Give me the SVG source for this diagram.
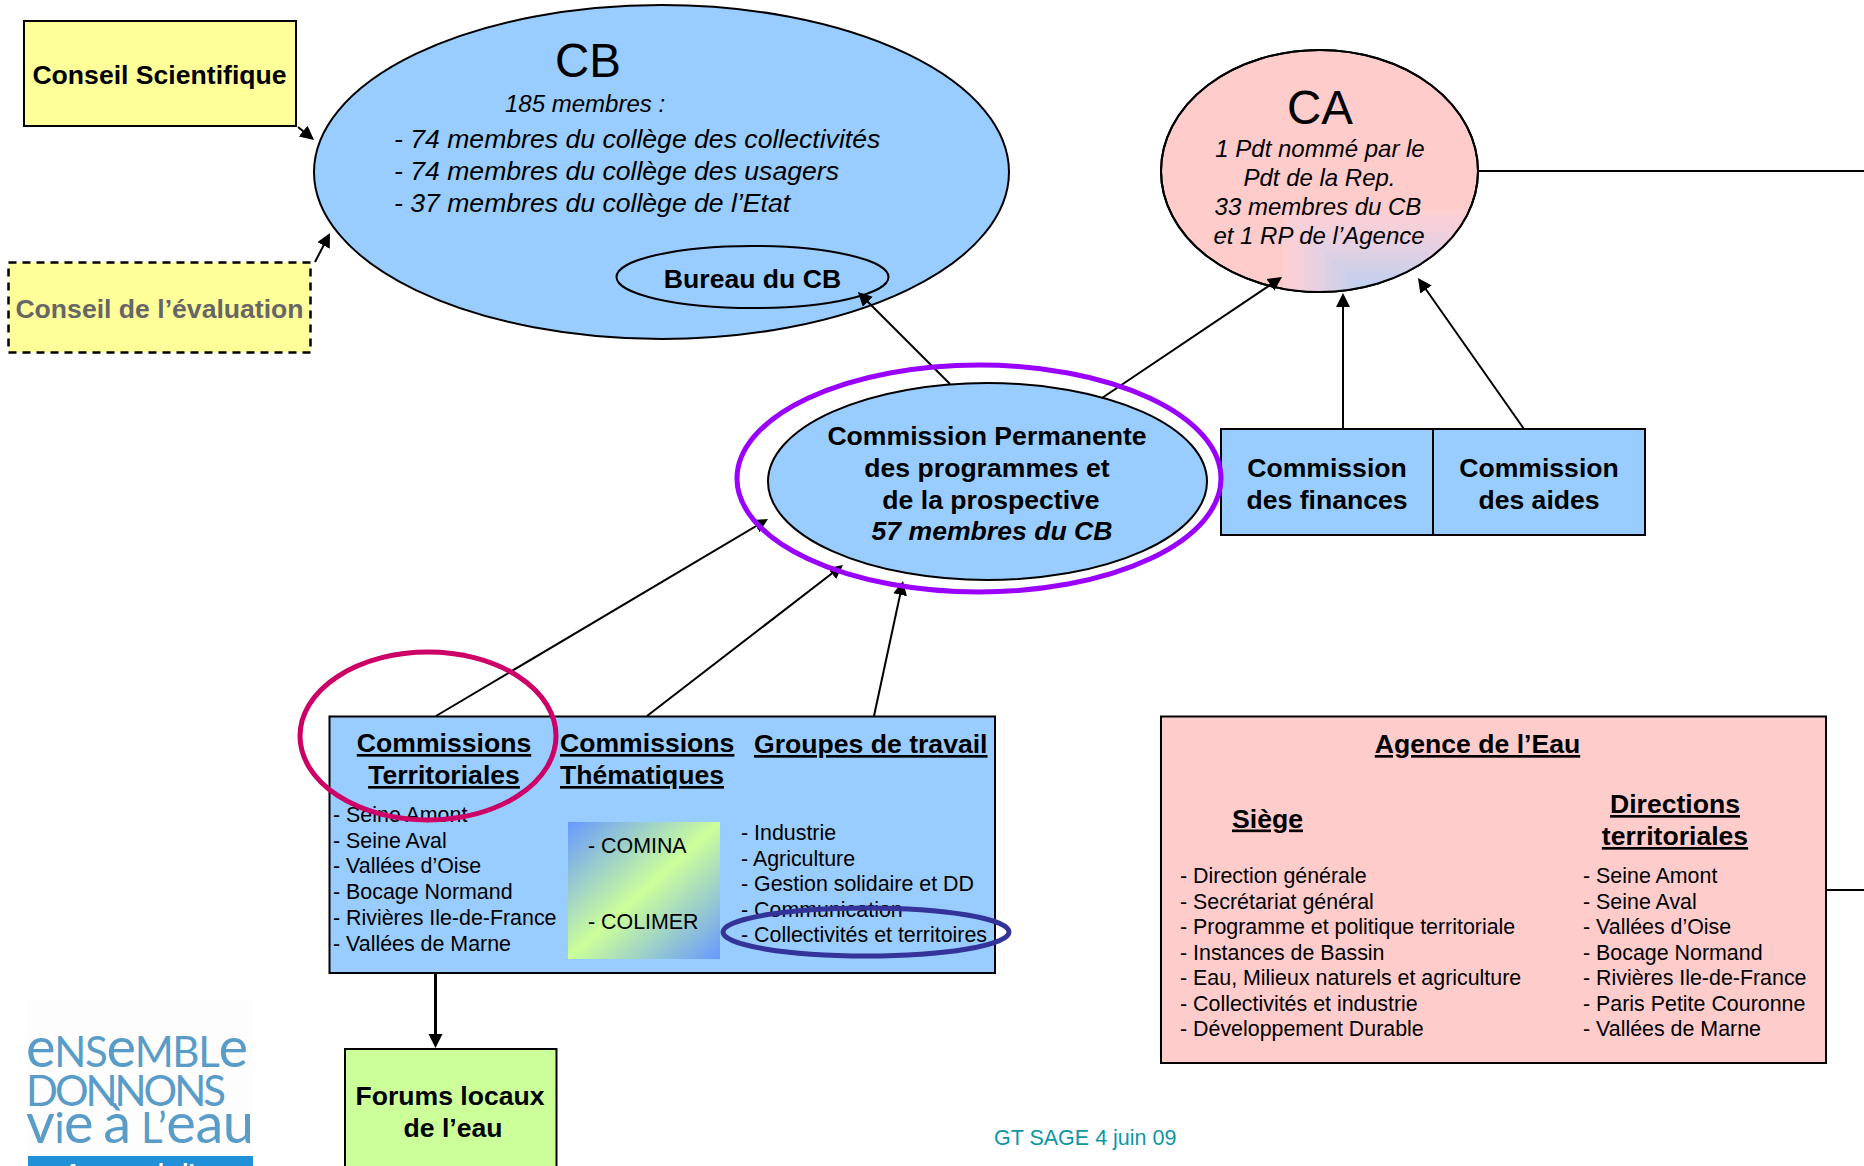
<svg xmlns="http://www.w3.org/2000/svg" width="1864" height="1166" viewBox="0 0 1864 1166">
<style>
text{font-family:"Liberation Sans",Arial,sans-serif;fill:#000}
.box{stroke:#000;stroke-width:2}
.blue{fill:#99ccff}
.pink{fill:#ffcccc}
.yel{fill:#ffff99}
.grn{fill:#ccff99}
.h{font-weight:bold;font-size:26.6px}
.hm{text-anchor:middle}
.u{text-decoration:underline}
.it{font-style:italic}
.cb{font-style:italic;font-size:26.6px}
.ca{font-style:italic;font-size:24px;text-anchor:middle}
.l{font-size:21.4px}
.big{font-size:47.5px;text-anchor:middle}
.c{stroke:#000;stroke-width:2;fill:none;marker-end:url(#ah)}
.ln{stroke:#000;stroke-width:2;fill:none}
.ring{fill:none;stroke-width:5}
.logo{font-family:Lato,sans-serif;font-weight:400;fill:#5a9cc8;font-size:42px}
.logo .e{font-size:56px}
</style>
<defs>
<marker id="ah" markerUnits="userSpaceOnUse" markerWidth="16" markerHeight="16" refX="11" refY="7" orient="auto"><path d="M0 0L14 7L0 14Z" fill="#000"/></marker>
<linearGradient id="g1" x1="0" y1="0" x2="1" y2="1"><stop offset="0" stop-color="#6699ff"/><stop offset=".5" stop-color="#ccff99"/><stop offset="1" stop-color="#6699ff"/></linearGradient>
<clipPath id="cac"><ellipse cx="1319.5" cy="171" rx="158" ry="120.5"/></clipPath>
</defs>

<g id="conseil-scientifique"><rect class="box yel" x="24" y="21" width="272" height="105"/><text class="h" x="159.5" y="84" text-anchor="middle">Conseil Scientifique</text></g>
<g id="conseil-evaluation"><rect x="8.5" y="262.5" width="302" height="90" class="yel" stroke="#000" stroke-width="2.5" stroke-dasharray="8 6"/><text class="h" x="159.5" y="318" text-anchor="middle" style="fill:#666">Conseil de l’évaluation</text></g>

<g id="cb"><ellipse class="box blue" cx="661.5" cy="172" rx="347.5" ry="167"/>
<text class="big" x="588" y="77">CB</text>
<text class="cb" x="505" y="112" style="font-size:24px">185 membres :</text>
<text class="cb" x="394" y="147.5">- 74 membres du collège des collectivités</text>
<text class="cb" x="394" y="180">- 74 membres du collège des usagers</text>
<text class="cb" x="394" y="211.5">- 37 membres du collège de l’Etat</text></g>
<g id="bureau"><ellipse class="box blue" cx="752.5" cy="277" rx="136" ry="31"/><text class="h hm" x="752.5" y="288">Bureau du CB</text></g>

<g id="ca"><ellipse class="box pink" cx="1319.5" cy="171" rx="158.5" ry="121"/>
<g clip-path="url(#cac)">
<rect x="1283" y="210" width="187" height="120" fill="#fdd0d4"/>
<rect x="1290" y="217" width="173" height="113" fill="#f9d0d7"/>
<rect x="1297" y="224" width="159" height="106" fill="#f4d0da"/>
<rect x="1304" y="231" width="145" height="99" fill="#eed0dd"/>
<rect x="1311" y="238" width="131" height="92" fill="#e8d0e0"/>
<rect x="1318" y="245" width="117" height="85" fill="#e2d0e3"/>
<rect x="1325" y="252" width="103" height="78" fill="#dcd0e5"/>
<rect x="1332" y="259" width="89" height="71" fill="#d6d0e7"/>
<rect x="1339" y="266" width="75" height="64" fill="#d0d0e9"/>
<rect x="1346" y="273" width="61" height="57" fill="#cad0eb"/>
<rect x="1353" y="280" width="47" height="50" fill="#c4d0ed"/>
</g>
<ellipse cx="1319.5" cy="171" rx="158.5" ry="121" fill="none" stroke="#000" stroke-width="2"/>
<text class="big" x="1320" y="123.5">CA</text>
<text class="ca" x="1320" y="157">1 Pdt nommé par le</text>
<text class="ca" x="1319.5" y="186">Pdt de la Rep.</text>
<text class="ca" x="1318" y="215">33 membres du CB</text>
<text class="ca" x="1319" y="244">et 1 RP de l’Agence</text></g>

<g id="cp"><ellipse class="box blue" cx="987.5" cy="481.5" rx="219.5" ry="98.5"/>
<text class="h hm" x="987" y="444.5">Commission Permanente</text>
<text class="h hm" x="987" y="476.5">des programmes et</text>
<text class="h hm" x="991" y="508.5">de la prospective</text>
<text class="h hm it" x="992" y="540">57 membres du CB</text></g>

<g id="finances"><rect class="box blue" x="1221" y="429" width="212" height="106"/><text class="h hm" x="1327" y="476.5">Commission</text><text class="h hm" x="1327" y="508.5">des finances</text></g>
<g id="aides"><rect class="box blue" x="1433" y="429" width="212" height="106"/><text class="h hm" x="1539" y="476.5">Commission</text><text class="h hm" x="1539" y="508.5">des aides</text></g>

<g id="commissions"><rect class="box blue" x="329.5" y="716.5" width="665.5" height="256.5"/>
<text class="h hm u" x="444" y="752">Commissions</text><text class="h hm u" x="444" y="784">Territoriales</text>
<text class="h u" x="560" y="752">Commissions</text><text class="h u" x="560" y="784">Thématiques</text>
<text class="h u" x="754" y="753">Groupes de travail</text>
<text class="l" x="333" y="822">- Seine Amont</text>
<text class="l" x="333" y="848">- Seine Aval</text>
<text class="l" x="333" y="873">- Vallées d’Oise</text>
<text class="l" x="333" y="899">- Bocage Normand</text>
<text class="l" x="333" y="924.5">- Rivières Ile-de-France</text>
<text class="l" x="333" y="950.5">- Vallées de Marne</text>
<rect x="568" y="822" width="152" height="137" fill="url(#g1)"/>
<text class="l" x="588" y="853">- COMINA</text>
<text class="l" x="588" y="929">- COLIMER</text>
<text class="l" x="741" y="840">- Industrie</text>
<text class="l" x="741" y="866">- Agriculture</text>
<text class="l" x="741" y="891">- Gestion solidaire et DD</text>
<text class="l" x="741" y="917">- Communication</text>
<text class="l" x="741" y="942">- Collectivités et territoires</text></g>

<g id="forums"><rect class="box grn" x="345" y="1049" width="211.5" height="130"/><text class="h hm" x="450" y="1105">Forums locaux</text><text class="h hm" x="453" y="1137">de l’eau</text></g>

<g id="agence"><rect class="box pink" x="1161" y="716.5" width="665" height="346.5"/>
<text class="h hm u" x="1477.5" y="753">Agence de l’Eau</text>
<text class="h u" x="1232" y="827.5">Siège</text>
<text class="h hm u" x="1675" y="813">Directions</text><text class="h hm u" x="1675" y="845">territoriales</text>
<text class="l" x="1180" y="883">- Direction générale</text>
<text class="l" x="1180" y="909">- Secrétariat général</text>
<text class="l" x="1180" y="934">- Programme et politique territoriale</text>
<text class="l" x="1180" y="960">- Instances de Bassin</text>
<text class="l" x="1180" y="985">- Eau, Milieux naturels et agriculture</text>
<text class="l" x="1180" y="1011">- Collectivités et industrie</text>
<text class="l" x="1180" y="1036">- Développement Durable</text>
<text class="l" x="1583" y="883">- Seine Amont</text>
<text class="l" x="1583" y="909">- Seine Aval</text>
<text class="l" x="1583" y="934">- Vallées d’Oise</text>
<text class="l" x="1583" y="960">- Bocage Normand</text>
<text class="l" x="1583" y="985">- Rivières Ile-de-France</text>
<text class="l" x="1583" y="1011">- Paris Petite Couronne</text>
<text class="l" x="1583" y="1036">- Vallées de Marne</text></g>

<g id="connectors">
<path class="c" d="M298 127L311.7 138.1"/>
<path class="c" d="M315 262L328.6 235.7"/>
<path class="c" d="M950 384L860 294"/>
<path class="c" d="M1102 398L1279.5 278.7"/>
<path class="c" d="M1343 429V296"/>
<path class="c" d="M1524 429L1419.7 280.5"/>
<path class="c" d="M436 716L765.4 520.5"/>
<path class="c" d="M647 716L840.6 566.8"/>
<path class="c" d="M874 716L902.4 584"/>
<path class="c" style="stroke-width:3" d="M435.5 973V1045"/>
<path class="ln" d="M1478 171H1864"/>
<path class="ln" d="M1826 890H1864"/>
</g>

<g id="highlights">
<ellipse class="ring" stroke="#9900ff" cx="979" cy="478.5" rx="242" ry="113.5"/>
<ellipse class="ring" stroke="#cc0066" cx="428" cy="736" rx="128" ry="84"/>
<ellipse class="ring" stroke="#333399" cx="866" cy="932" rx="143" ry="24"/>
</g>

<g id="logo"><rect x="27" y="1000" width="226" height="166" fill="#fdfdfd"/>
<text class="logo" x="26" y="1067" textLength="222"><tspan class="e">e</tspan>NS<tspan class="e">e</tspan>MBL<tspan class="e">e</tspan></text>
<text class="logo" x="26" y="1106" textLength="200">DONNONS</text>
<text class="logo" x="26" y="1143" textLength="228"><tspan class="e">v</tspan>i<tspan class="e">e</tspan> <tspan class="e">à</tspan> L’<tspan class="e">eau</tspan></text>
<rect x="28" y="1156" width="225" height="10" fill="#2090d8"/>
<text x="65" y="1179" font-size="22" style="fill:#fff;font-weight:bold">Agence de l’eau</text></g>

<text id="footer" x="994" y="1145" font-size="21.5" style="fill:#0d96a6">GT SAGE 4 juin 09</text>
</svg>
